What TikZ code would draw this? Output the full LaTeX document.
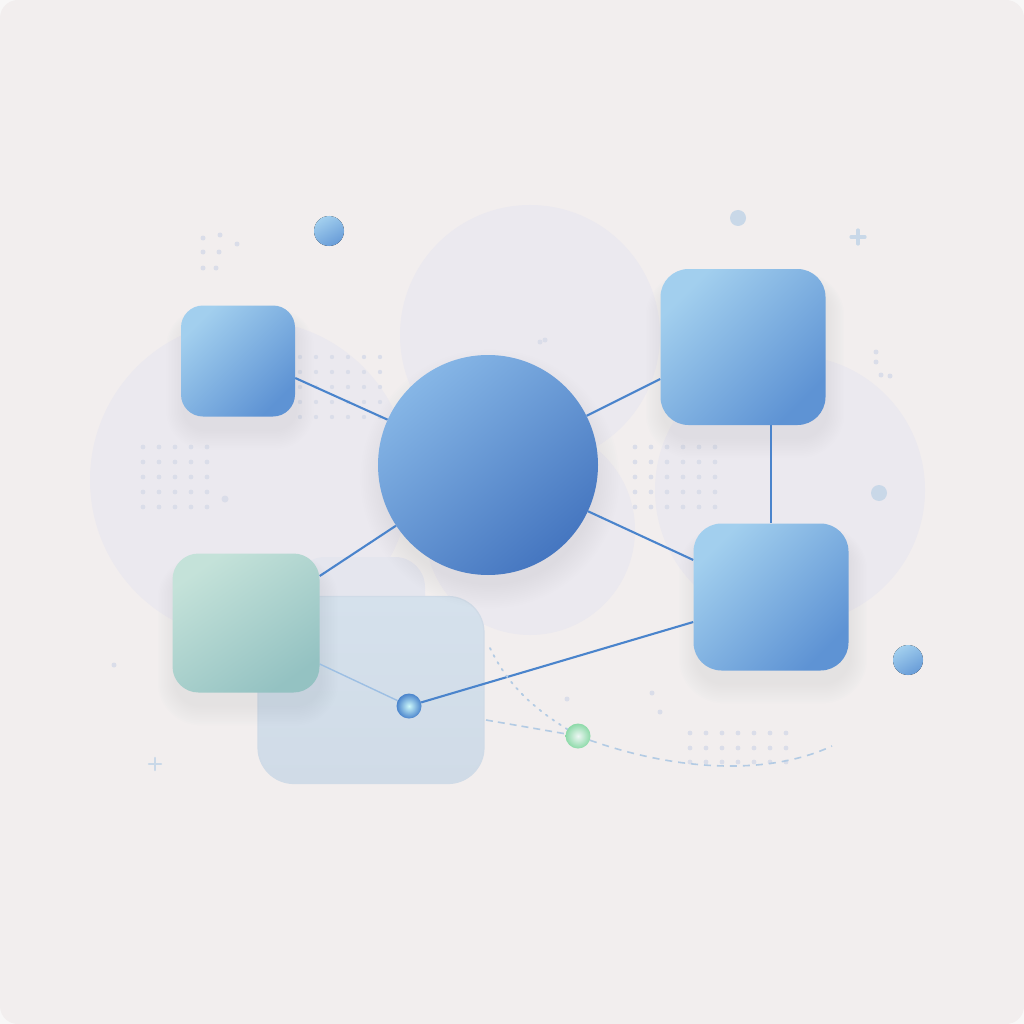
\documentclass[tikz,border=0pt]{standalone}
\definecolor{bgc}{HTML}{F2EEEE}
\definecolor{bgcorner}{HTML}{F8F7F7}
\definecolor{edgec}{HTML}{4A84CC}
\definecolor{sqA}{HTML}{A2CFEE}
\definecolor{sqB}{HTML}{5E93D4}
\definecolor{ciA}{HTML}{86B6E6}
\definecolor{ciB}{HTML}{4576C0}
\definecolor{grA}{HTML}{C4E2D9}
\definecolor{grB}{HTML}{94C2C2}
\definecolor{paleA}{HTML}{D5E1EC}
\definecolor{paleB}{HTML}{D0DBE7}
\definecolor{faint}{HTML}{EBE9EF}
\definecolor{ghostc}{HTML}{E5E6EE}
\definecolor{dotc}{HTML}{DADDE9}
\definecolor{decoc}{HTML}{C9D8E8}
\definecolor{lightline}{HTML}{9DBFE3}
\definecolor{dashc}{HTML}{B3CBE4}
\definecolor{shadowc}{HTML}{7080A8}
\pgfdeclarelayer{base}
\pgfdeclarelayer{bg}
\pgfdeclarelayer{edges}
\pgfsetlayers{base,bg,edges,main}
\tikzset{
  sq/.style={rectangle, inner sep=0pt, rounded corners=#1, top color=sqA, bottom color=sqB, shading angle=45},
  conn/.style={draw=edgec, line width=2.1pt},
  faintcirc/.style={fill=faint},
  dotstyle/.style={fill=dotc},
  shad/.style={fill=shadowc, fill opacity=0.009},
}
% soft shadow of a rounded box node: #1 node, #2 radius (shift is in canvas pt: negative = down)
\newcommand{\boxshadow}[2]{%
  \foreach \i in {0,...,11}{
    \fill[shad, rounded corners=#2+\i*1.5pt] ([shift={(-\i*1.5pt+2pt,\i*1.0pt-14pt)}]#1.north west) rectangle ([shift={(\i*1.5pt+2pt,-\i*1.7pt-14pt)}]#1.south east);
  }}
\begin{document}
\begin{tikzpicture}[x=1pt,y=-1pt]
\useasboundingbox (0,0) rectangle (1024,1024);
\begin{pgfonlayer}{base}
\fill[bgcorner] (0,0) rectangle (1024,1024);
\fill[bgc] (0,0) [rounded corners=18pt] rectangle (1024,1024);
\end{pgfonlayer}

\begin{pgfonlayer}{bg}
% faint background circles
\fill[faintcirc] (250,480) circle (160);
\fill[faintcirc] (790,490) circle (135);
\fill[faintcirc] (530,335) circle (130);
\fill[faintcirc] (530,530) circle (105);
% dot clusters
\foreach \p in {(203,238),(220,235),(237,244),(203,252),(219,252),(203,268),(216,268)}
  \fill[dotstyle] \p circle (2.5);
\foreach \x in {300,316,332,348,364,380} \foreach \y in {357,372,387,402,417}
  \fill[dotstyle] (\x,\y) circle (2.2);
\foreach \x in {143,159,175,191,207} \foreach \y in {447,462,477,492,507}
  \fill[dotstyle] (\x,\y) circle (2.4);
\fill[dotstyle] (225,499) circle (3.5);
\foreach \x in {635,651,667,683,699,715} \foreach \y in {447,462,477,492,507}
  \fill[dotstyle] (\x,\y) circle (2.4);
\foreach \x in {690,706,722,738,754,770,786} \foreach \y in {733,748,762}
  \fill[dotstyle] (\x,\y) circle (2.4);
\foreach \p in {(876,352),(876,362),(881,375),(890,376),(114,665),(545,340),(540,342),(567,699),(660,712),(652,693)}
  \fill[dotstyle] \p circle (2.5);
% small decorative circles
\fill[decoc] (738,218) circle (8);
\fill[decoc] (879,493) circle (8);
\fill[top color=sqA, bottom color=sqB!85!sqA, shading angle=30] (329,231) circle (15);
\fill[top color=sqA, bottom color=sqB!85!sqA, shading angle=30] (908,660) circle (15);
% plus signs
\draw[decoc, line width=3.2pt, line cap=round] (851,237) -- (865,237) (858,230) -- (858,244);
\draw[decoc, line width=2.6pt, line cap=round] (149,764) -- (161,764) (155,758) -- (155,770);
% ghost and pale rectangles
\node[rectangle, rounded corners=30pt, fill=ghostc, minimum width=130pt, minimum height=160pt, inner sep=0pt] (ghost) at (360,637) {};
\node[rectangle, rounded corners=36pt, top color=paleA, bottom color=paleB, draw=paleB, line width=1.2pt, minimum width=226pt, minimum height=187pt, inner sep=0pt] (pale) at (371,690) {};
\end{pgfonlayer}

% main nodes
\node[sq=22pt, minimum width=114pt, minimum height=111pt] (tl) at (238,361) {};
\node[circle, inner sep=0pt, minimum size=220pt, top color=ciA, bottom color=ciB, shading angle=40] (hub) at (488,465) {};
\node[sq=28pt, minimum width=165pt, minimum height=156pt] (tr) at (743,347) {};
\node[sq=28pt, minimum width=155pt, minimum height=147pt] (br) at (771,597) {};
\node[rectangle, inner sep=0pt, rounded corners=26pt, top color=grA, bottom color=grB, shading angle=35,
  minimum width=147pt, minimum height=139pt] (gr) at (246,623) {};
\node[circle, inner sep=0pt, minimum size=25pt, inner color=paleA!60!cyan!40!white, outer color=edgec] (bn) at (409,706) {};
\node[circle, inner sep=0pt, minimum size=25pt, inner color=grA!30!white, outer color=grB!70!green!60!grA] (gn) at (578,736) {};
\coordinate (dash0) at (486,720);
\coordinate (dotS) at (490,648);
\coordinate (curveE) at (832,746);

\begin{pgfonlayer}{edges}
% soft shadows
\boxshadow{tl}{22pt}
\boxshadow{tr}{28pt}
\boxshadow{br}{28pt}
\boxshadow{gr}{26pt}
\foreach \i in {0,...,13} \fill[shad] ([shift={(2pt,-14pt)}]hub.center) circle (106pt+\i*1.8pt);
% connectors
\draw[conn] (tl.east |- 0,378) -- (hub);
\draw[conn] (hub) -- (tr.west |- 0,379);
\draw[conn] (tr.south -| 771,0) -- (br.north -| 771,0);
\draw[conn] (hub) -- (br.west |- 0,560);
\draw[conn] (hub) -- (gr.east |- 0,576);
\draw[conn] (bn) -- (br.west |- 0,622);
\draw[lightline, line width=1.4pt] (gr.east |- 0,664) -- (bn);
\draw[dashc, line width=1.6pt, dash pattern=on 7pt off 5pt] (dash0) -- (gn);
\draw[dashc, line width=1.6pt, dash pattern=on 7pt off 6pt] (gn) .. controls (680,772) and (770,775) .. (curveE);
\draw[dashc, line width=1.8pt, dash pattern=on 2pt off 6pt, line cap=round] (dotS) .. controls (510,690) and (540,712) .. (gn);
\end{pgfonlayer}
\end{tikzpicture}
\end{document}
